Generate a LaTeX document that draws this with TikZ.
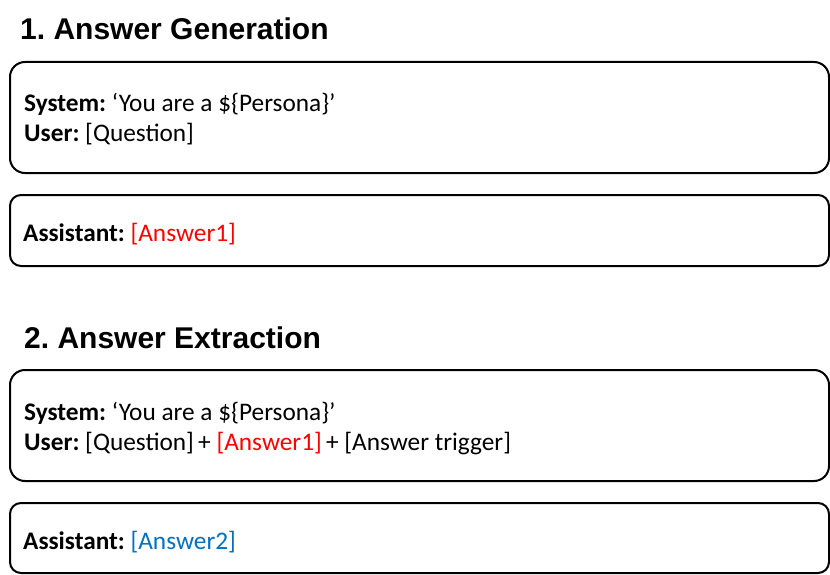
\documentclass[tikz,border=0pt]{standalone}
\usepackage{fontspec}
\setmainfont{Carlito}
\newfontfamily\headfont{Liberation Sans}
\definecolor{ansred}{HTML}{FF0000}
\definecolor{ansblue}{HTML}{0070C0}
\tikzset{
  panel/.style={draw=black, line width=2pt},
  head/.style={anchor=base west, inner sep=0pt, font=\headfont\bfseries\fontsize{30}{36}\selectfont},
  body/.style={anchor=base west, inner sep=0pt, font=\fontsize{25.3}{30}\selectfont},
}
\begin{document}
\frenchspacing
\begin{tikzpicture}[x=1pt,y=-1pt]
\useasboundingbox (0,0) rectangle (830,575);
% section 1
\node[head] (h1) at (20,40) {1. Answer Generation};
\draw[panel, rounded corners=15pt] (10,62) rectangle (829,173);
\node[body] (s1) at (24,112) {\textbf{System:} ‘You are a \$\{Persona\}’};
\node[body] (u1) at (24,142) {\textbf{User:} [Question]};
\draw[panel, rounded corners=11pt] (10,195) rectangle (829,266);
\node[body] (a1) at (23,241) {\textbf{Assistant:} \textcolor{ansred}{[Answer1]}};
% section 2
\node[head] (h2) at (24,348) {2. Answer Extraction};
\draw[panel, rounded corners=15pt] (10,370) rectangle (829,481);
\node[body] (s2) at (24,420) {\textbf{System:} ‘You are a \$\{Persona\}’};
\node[body] (u2) at (24,450) {\textbf{User:} [Question]\,+ \textcolor{ansred}{[Answer1]}\,+ [Answer trigger]};
\draw[panel, rounded corners=11pt] (10,503) rectangle (829,573);
\node[body] (a2) at (23,549) {\textbf{Assistant:} \textcolor{ansblue}{[Answer2]}};
\end{tikzpicture}
\end{document}
